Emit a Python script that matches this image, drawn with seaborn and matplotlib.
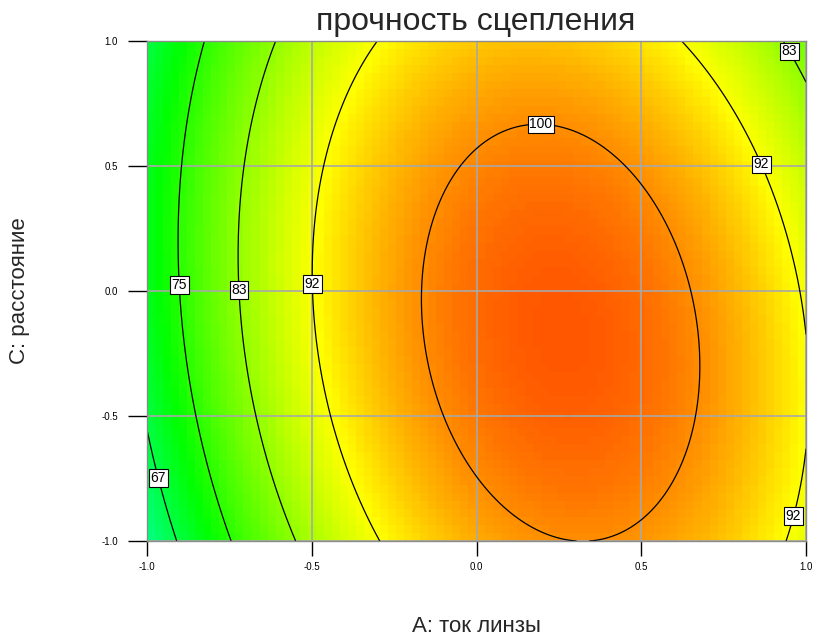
import numpy as np
import pandas as pd
import matplotlib
matplotlib.use("Agg")
import matplotlib.pyplot as plt
import seaborn as sns
from matplotlib.colors import LinearSegmentedColormap

# ---- chart data ----
title = "прочность сцепления"
x_label = "A: ток линзы"
y_label = "C: расстояние"
tick_values = [-1.0, -0.5, 0.0, 0.5, 1.0]
tick_labels = ["-1.0", "-0.5", "0.0", "0.5", "1.0"]
contour_levels = [66.667, 75.0, 83.333, 91.667, 100.0]
contour_labels = ["67", "75", "83", "92", "100"]

# quadratic response-surface model read from the contour positions
# terms:          1       A       C      A*C     A^2     C^2
model_terms = ["1", "A", "C", "AC", "A2", "C2"]
model_coefs = [102.38, 10.61, -0.97, -3.56, -21.94, -5.63]


def model(A, C):
    k = dict(zip(model_terms, model_coefs))
    return k["1"] + k["A"] * A + k["C"] * C + k["AC"] * A * C + k["A2"] * A * A + k["C2"] * C * C


sns.set_theme(style="white")
plt.rcParams['font.family'] = ['Liberation Sans', 'DejaVu Sans']

fig = plt.figure(figsize=(8.15, 6.4), dpi=100)
pos = [147 / 815, 1 - 541 / 640, 659 / 815, 500 / 640]
ax_bg = fig.add_axes(pos)
ax = fig.add_axes(pos)
ax.patch.set_alpha(0)

# pixelated colour field
nx, ny = 82, 62
xa = -1 + (np.arange(nx) + 0.5) * 2 / nx
ya = 1 - (np.arange(ny) + 0.5) * 2 / ny
GA, GC = np.meshgrid(xa, ya)
df = pd.DataFrame(model(GA, GC))
cmap = LinearSegmentedColormap.from_list(
    "de", [(0.0, "#00FFFF"), (20 / 58, "#00FF00"), (40 / 58, "#FFFF00"), (1.0, "#FF0000")])
sns.heatmap(df, ax=ax_bg, cmap=cmap, vmin=52, vmax=110, cbar=False,
            xticklabels=False, yticklabels=False)
ax_bg.set_axis_off()

# contours
fa = np.linspace(-1, 1, 300)
FA, FC = np.meshgrid(fa, fa)
cs = ax.contour(FA, FC, model(FA, FC), levels=contour_levels, colors="black", linewidths=0.9)
ax.set_xlim(-1, 1)
ax.set_ylim(-1, 1)
label_pos = [(-0.906, 0.024), (-0.724, 0.004), (-0.505, 0.028), (0.196, 0.68),
             (0.866, 0.508), (0.951, 0.96), (0.951, -0.896), (-0.964, -0.748)]
txts = ax.clabel(cs, levels=contour_levels, fmt=dict(zip(contour_levels, contour_labels)),
                 manual=label_pos, inline=False, fontsize=10)
for t in txts:
    t.set_rotation(0)
    t.set_bbox(dict(boxstyle="square,pad=0.12", facecolor="white", edgecolor="black", linewidth=0.8))

ax.set_xticks(tick_values)
ax.set_xticklabels(tick_labels)
ax.set_yticks(tick_values)
ax.set_yticklabels(tick_labels)
ax.grid(True, color="#a8a8a8", linewidth=1.2)
ax.tick_params(axis="x", direction="out", length=11, width=1, colors="black", labelsize=7, pad=4, bottom=True)
ax.tick_params(axis="y", direction="out", length=14, width=1, colors="black", labelsize=7, pad=7, left=True)
for s in ax.spines.values():
    s.set_color("#8c8c8c")
    s.set_linewidth(1)
ax.set_xlabel(x_label, fontsize=16, va="center")
ax.xaxis.set_label_coords(0.5, -(627 - 541) / 500)
ax.set_ylabel(y_label, fontsize=16, va="center")
ax.yaxis.set_label_coords((20 - 147) / 659, 0.5)
fig.text(476 / 815, 1 - 22 / 640, title, ha="center", va="center", fontsize=23,
         family=['Liberation Sans Narrow', 'Liberation Sans', 'DejaVu Sans'])
fig.savefig("out.png", dpi=100)
